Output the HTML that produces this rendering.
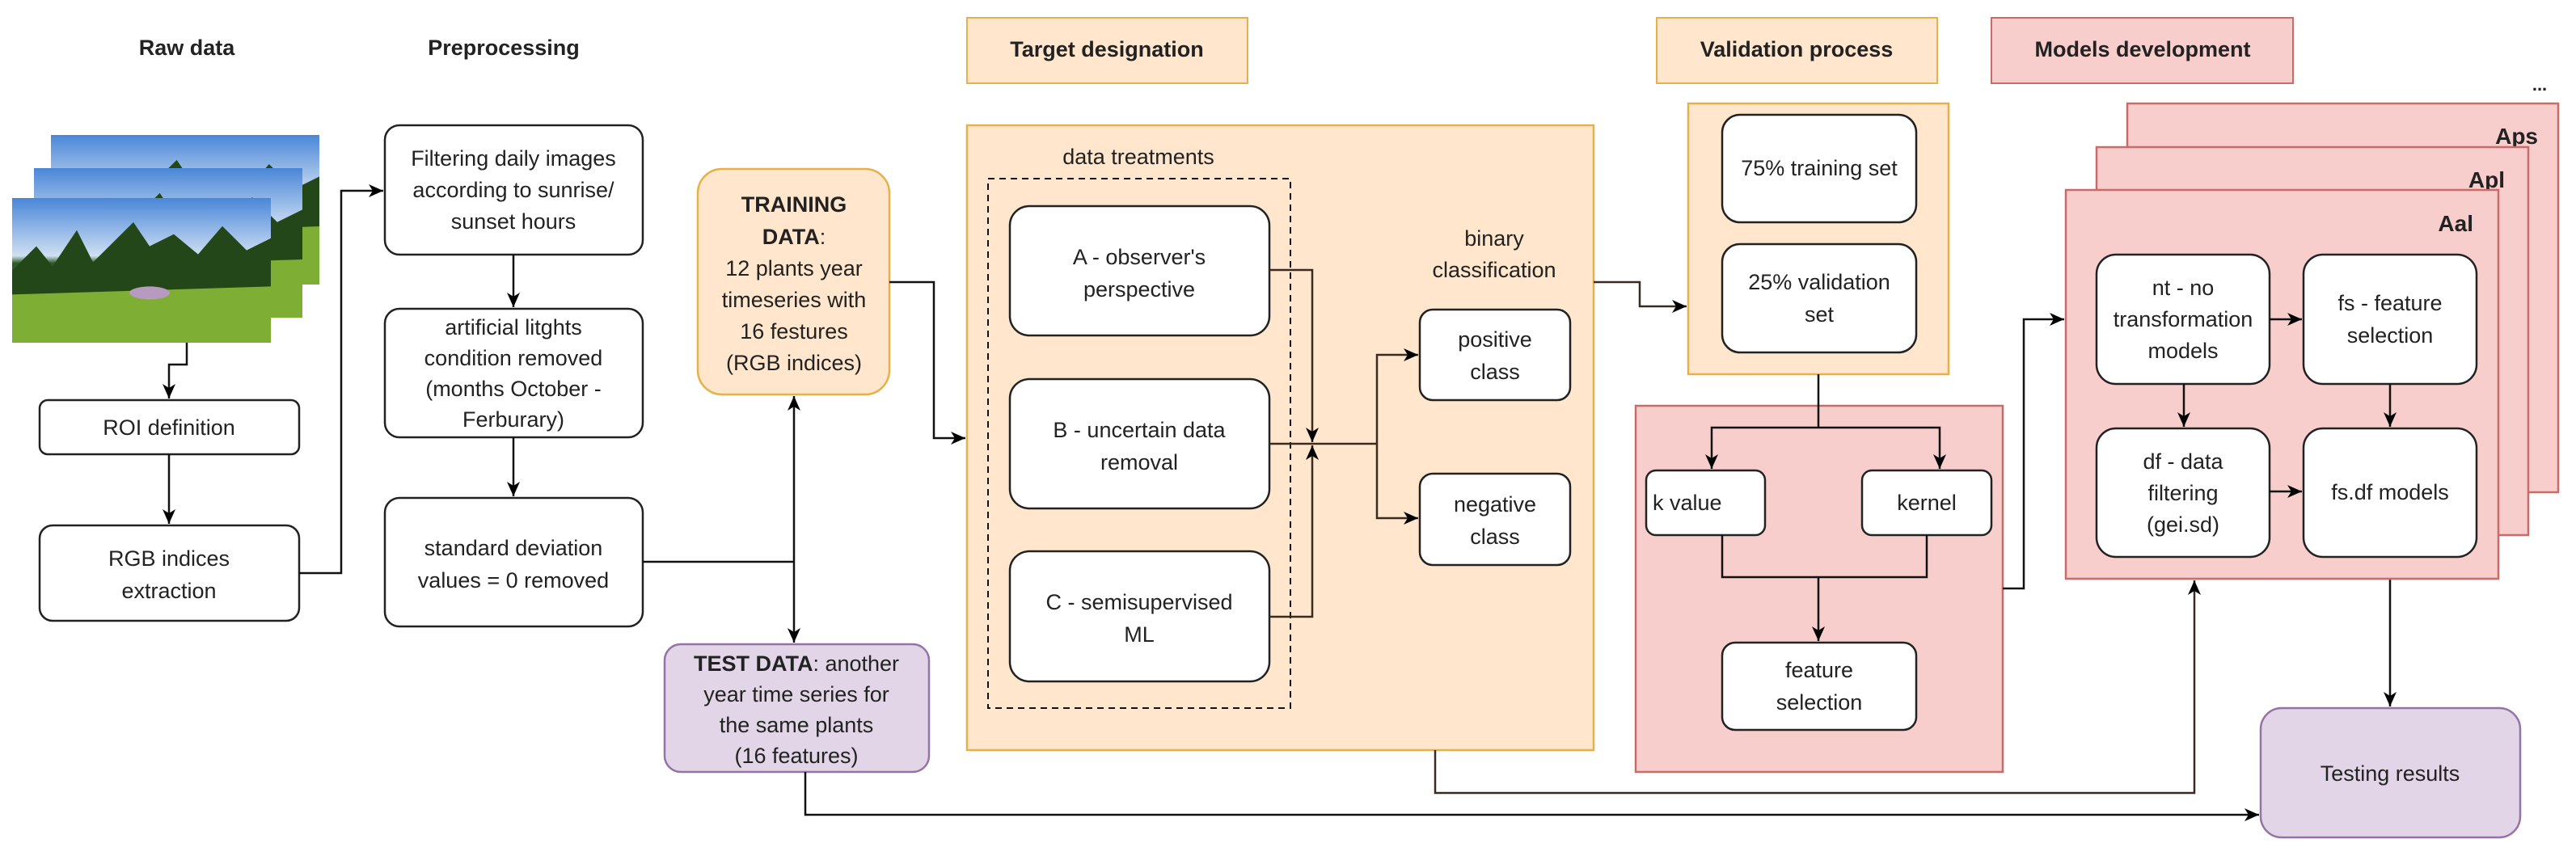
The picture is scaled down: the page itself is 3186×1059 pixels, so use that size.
<!DOCTYPE html>
<html><head><meta charset="utf-8"><style>
html,body{margin:0;padding:0;background:#fff}
svg{display:block}
text{font-family:"Liberation Sans",Arial,sans-serif;font-size:27px;fill:#222}
.b{font-weight:bold}
</style></head><body>
<svg width="3186" height="1059" viewBox="0 0 3186 1059" xmlns="http://www.w3.org/2000/svg">
<defs>
<marker id="ar" markerWidth="10" markerHeight="10" refX="9" refY="5" orient="auto" markerUnits="userSpaceOnUse">
<path d="M0,0 L10,5 L0,10 L3,5 z" fill="#000"/></marker>
<marker id="arb" markerWidth="20" markerHeight="20" refX="18" refY="8" orient="auto" markerUnits="userSpaceOnUse">
<path d="M0,0 L18,8 L0,16 L5,8 z" fill="#000"/></marker>
<linearGradient id="sky" x1="0" y1="0" x2="0" y2="1">
<stop offset="0" stop-color="#4a86d8"/><stop offset="0.4" stop-color="#cfe0f2"/><stop offset="0.45" stop-color="#2f5a22"/><stop offset="0.7" stop-color="#3f6e26"/><stop offset="0.75" stop-color="#8cb33a"/><stop offset="1" stop-color="#6a9a28"/></linearGradient>
<g id="img">
<rect width="320" height="180" fill="url(#sky)"/>
<path d="M0,90 L30,60 L50,85 L80,40 L100,80 L130,50 L150,30 L170,60 L200,45 L230,70 L260,35 L290,65 L320,50 L320,130 L0,130 z" fill="#24471a"/>
<path d="M0,120 L320,110 L320,180 L0,180 z" fill="#7fae35"/>
<ellipse cx="170" cy="118" rx="25" ry="8" fill="#b89ac0"/>
</g>
</defs>

<!-- titles -->
<text class="b" x="231" y="68" text-anchor="middle">Raw data</text>
<text class="b" x="623" y="68" text-anchor="middle">Preprocessing</text>
<rect x="1196" y="22" width="347" height="81" fill="#ffe6cc" stroke="#e6b04a" stroke-width="2"/>
<text class="b" x="1369" y="70" text-anchor="middle">Target designation</text>
<rect x="2049" y="22" width="347" height="81" fill="#ffe6cc" stroke="#e6b04a" stroke-width="2"/>
<text class="b" x="2222" y="70" text-anchor="middle">Validation process</text>
<rect x="2463" y="22" width="373" height="81" fill="#f8cecc" stroke="#c96b68" stroke-width="2"/>
<text class="b" x="2650" y="70" text-anchor="middle">Models development</text>

<!-- images -->
<svg x="63" y="167" width="332" height="185" viewBox="0 0 320 180" preserveAspectRatio="none"><use href="#img"/></svg>
<svg x="42" y="208" width="332" height="185" viewBox="0 0 320 180" preserveAspectRatio="none"><use href="#img"/></svg>
<svg x="15" y="245" width="320" height="179" viewBox="0 0 320 180" preserveAspectRatio="none"><use href="#img"/></svg>

<g fill="#fff" stroke="#222" stroke-width="2.5">
<rect x="49" y="495" width="321" height="67" rx="10"/>
<rect x="49" y="650" width="321" height="118" rx="16"/>
<rect x="476" y="155" width="319" height="160" rx="18"/>
<rect x="476" y="382" width="319" height="159" rx="18"/>
<rect x="476" y="616" width="319" height="159" rx="18"/>
</g>
<text x="209" y="538" text-anchor="middle">ROI definition</text>
<text x="209" y="700" text-anchor="middle">RGB indices<tspan x="209" dy="40">extraction</tspan></text>
<text x="635" y="205" text-anchor="middle">Filtering daily images<tspan x="635" dy="39">according to sunrise/</tspan><tspan x="635" dy="39">sunset hours</tspan></text>
<text x="635" y="414" text-anchor="middle">artificial litghts<tspan x="635" dy="38">condition removed</tspan><tspan x="635" dy="38">(months October -</tspan><tspan x="635" dy="38">Ferburary)</tspan></text>
<text x="635" y="687" text-anchor="middle">standard deviation<tspan x="635" dy="40">values = 0 removed</tspan></text>

<!-- training / test -->
<rect x="863" y="209" width="237" height="279" rx="30" fill="#ffe6cc" stroke="#e6b04a" stroke-width="2.5"/>
<text x="982" y="262" text-anchor="middle"><tspan class="b">TRAINING</tspan><tspan x="982" dy="40" class="b">DATA</tspan><tspan>:</tspan><tspan x="982" dy="39">12 plants year</tspan><tspan x="982" dy="39">timeseries with</tspan><tspan x="982" dy="39">16 festures</tspan><tspan x="982" dy="39">(RGB indices)</tspan></text>
<rect x="822" y="797" width="327" height="158" rx="20" fill="#e1d5e7" stroke="#9673a6" stroke-width="2.5"/>
<text x="985" y="830" text-anchor="middle"><tspan class="b">TEST DATA</tspan>: another<tspan x="985" dy="38">year time series for</tspan><tspan x="985" dy="38">the same plants</tspan><tspan x="985" dy="38">(16 features)</tspan></text>

<!-- connectors left -->
<g fill="none" stroke="#111" stroke-width="2.5">
<path d="M231,424 V451 H209 V493" marker-end="url(#arb)"/>
<path d="M209,562 V648" marker-end="url(#arb)"/>
<path d="M370,709 H422 V236 H474" marker-end="url(#arb)"/>
<path d="M635,315 V380" marker-end="url(#arb)"/>
<path d="M635,541 V614" marker-end="url(#arb)"/>
<path d="M795,695 H982"/>
<path d="M982,695 V490" marker-end="url(#arb)"/>
<path d="M982,695 V795" marker-end="url(#arb)"/>
<path d="M1100,349 H1155 V542 H1194" marker-end="url(#arb)"/>
<path d="M996,955 V1008 H2794" marker-end="url(#arb)"/>
</g>

<!-- target designation -->
<rect x="1196" y="155" width="775" height="773" fill="#ffe6cc" stroke="#e6b04a" stroke-width="2.5"/>
<text x="1408" y="203" text-anchor="middle">data treatments</text>
<rect x="1222" y="221" width="374" height="655" fill="none" stroke="#111" stroke-width="2" stroke-dasharray="8,6"/>
<g fill="#fff" stroke="#222" stroke-width="2.5">
<rect x="1249" y="255" width="321" height="160" rx="24"/>
<rect x="1249" y="469" width="321" height="160" rx="24"/>
<rect x="1249" y="682" width="321" height="161" rx="24"/>
<rect x="1756" y="383" width="186" height="112" rx="16"/>
<rect x="1756" y="586" width="186" height="113" rx="16"/>
</g>
<text x="1409" y="327" text-anchor="middle">A - observer's<tspan x="1409" dy="40">perspective</tspan></text>
<text x="1409" y="541" text-anchor="middle">B -  uncertain data<tspan x="1409" dy="40">removal</tspan></text>
<text x="1409" y="754" text-anchor="middle">C - semisupervised<tspan x="1409" dy="40">ML</tspan></text>
<text x="1848" y="304" text-anchor="middle">binary<tspan x="1848" dy="39">classification</tspan></text>
<text x="1849" y="429" text-anchor="middle">positive<tspan x="1849" dy="40">class</tspan></text>
<text x="1849" y="633" text-anchor="middle">negative<tspan x="1849" dy="40">class</tspan></text>
<g fill="none" stroke="#3a2a20" stroke-width="2.5">
<path d="M1570,334 H1623 V547" marker-end="url(#arb)"/>
<path d="M1570,763 H1623 V551" marker-end="url(#arb)"/>
<path d="M1570,549 H1703"/>
<path d="M1703,549 V439 H1754" marker-end="url(#arb)"/>
<path d="M1703,549 V641 H1754" marker-end="url(#arb)"/>
<path d="M1971,349 H2028 V379 H2086" marker-end="url(#arb)"/>
<path d="M1775,928 V981 H2714 V718" marker-end="url(#arb)"/>
</g>

<!-- validation -->
<rect x="2088" y="128" width="322" height="335" fill="#ffe6cc" stroke="#e6b04a" stroke-width="2.5"/>
<g fill="#fff" stroke="#222" stroke-width="2.5">
<rect x="2130" y="142" width="240" height="133" rx="22"/>
<rect x="2130" y="302" width="240" height="134" rx="22"/>
</g>
<text x="2250" y="217" text-anchor="middle">75% training set</text>
<text x="2250" y="358" text-anchor="middle">25% validation<tspan x="2250" dy="40">set</tspan></text>
<rect x="2023" y="502" width="454" height="453" fill="#f8cecc" stroke="#c96b68" stroke-width="2.5"/>
<g fill="#fff" stroke="#222" stroke-width="2.5">
<rect x="2036" y="582" width="147" height="80" rx="12"/>
<rect x="2303" y="582" width="160" height="80" rx="12"/>
<rect x="2130" y="795" width="240" height="108" rx="16"/>
</g>
<text x="2044" y="631">k value</text>
<text x="2383" y="631" text-anchor="middle">kernel</text>
<text x="2250" y="838" text-anchor="middle">feature<tspan x="2250" dy="40">selection</tspan></text>
<g fill="none" stroke="#111" stroke-width="2.5">
<path d="M2249,463 V529"/>
<path d="M2249,529 H2117 V580" marker-end="url(#arb)"/>
<path d="M2249,529 H2399 V580" marker-end="url(#arb)"/>
<path d="M2130,662 V714 H2383 V662"/>
<path d="M2249,714 V793" marker-end="url(#arb)"/>
<path d="M2477,728 H2503 V395 H2553" marker-end="url(#arb)"/>
<path d="M2956,716 V874" marker-end="url(#arb)"/>
</g>

<!-- model stacks -->
<text class="b" x="3141" y="112" text-anchor="middle" style="font-size:22px">...</text>
<g id="layer">
<rect x="2631" y="128" width="533" height="481" fill="#f8cecc" stroke="#c96b68" stroke-width="2.5"/>
<rect x="2745" y="208" width="358" height="160" rx="24" fill="#fff" stroke="#222" stroke-width="2.5"/>
<rect x="2745" y="423" width="358" height="160" rx="24" fill="#fff" stroke="#222" stroke-width="2.5"/>
</g>
<text class="b" x="3139" y="178" text-anchor="end" style="font-size:28px">Aps</text>
<rect x="2593" y="182" width="534" height="480" fill="#f8cecc" stroke="#c96b68" stroke-width="2.5"/>
<rect x="2700" y="264" width="350" height="160" rx="24" fill="#fff" stroke="#222" stroke-width="2.5"/>
<rect x="2700" y="478" width="350" height="160" rx="24" fill="#fff" stroke="#222" stroke-width="2.5"/>
<text class="b" x="3098" y="232" text-anchor="end" style="font-size:28px">Apl</text>
<rect x="2555" y="235" width="535" height="481" fill="#f8cecc" stroke="#c96b68" stroke-width="2.5"/>
<text class="b" x="3059" y="286" text-anchor="end" style="font-size:28px">Aal</text>
<g fill="#fff" stroke="#222" stroke-width="2.5">
<rect x="2593" y="315" width="214" height="160" rx="24"/>
<rect x="2849" y="315" width="214" height="160" rx="24"/>
<rect x="2593" y="530" width="214" height="159" rx="24"/>
<rect x="2849" y="530" width="214" height="159" rx="24"/>
</g>
<text x="2700" y="365" text-anchor="middle">nt - no<tspan x="2700" dy="39">transformation</tspan><tspan x="2700" dy="39">models</tspan></text>
<text x="2956" y="384" text-anchor="middle">fs - feature<tspan x="2956" dy="40">selection</tspan></text>
<text x="2700" y="580" text-anchor="middle">df - data<tspan x="2700" dy="39">filtering</tspan><tspan x="2700" dy="39">(gei.sd)</tspan></text>
<text x="2956" y="618" text-anchor="middle">fs.df models</text>
<g fill="none" stroke="#111" stroke-width="2.5">
<path d="M2807,395 H2847" marker-end="url(#arb)"/>
<path d="M2701,475 V528" marker-end="url(#arb)"/>
<path d="M2956,475 V528" marker-end="url(#arb)"/>
<path d="M2807,608 H2847" marker-end="url(#arb)"/>
</g>

<rect x="2796" y="876" width="321" height="160" rx="26" fill="#e1d5e7" stroke="#9673a6" stroke-width="2.5"/>
<text x="2956" y="966" text-anchor="middle">Testing results</text>
</svg>
</body></html>
